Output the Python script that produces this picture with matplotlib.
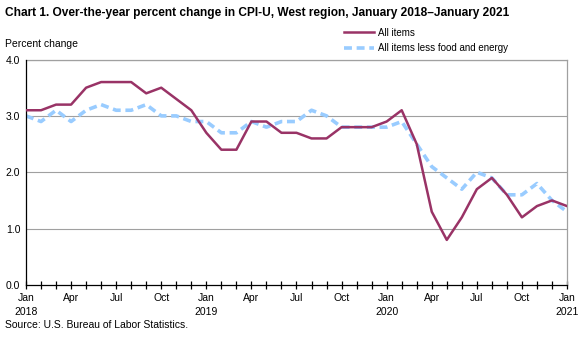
import matplotlib
matplotlib.use("Agg")
import matplotlib.pyplot as plt
import numpy as np

plt.rcParams["font.family"] = ["Liberation Sans", "DejaVu Sans"]

# Monthly data, January 2018 through January 2021
months = ["Jan", "Feb", "Mar", "Apr", "May", "Jun",
          "Jul", "Aug", "Sep", "Oct", "Nov", "Dec"]
years = [2018, 2019, 2020, 2021]

all_items = [3.1, 3.1, 3.2, 3.2, 3.5, 3.6, 3.6, 3.6, 3.4, 3.5, 3.3, 3.1,
             2.7, 2.4, 2.4, 2.9, 2.9, 2.7, 2.7, 2.6, 2.6, 2.8, 2.8, 2.8,
             2.9, 3.1, 2.5, 1.3, 0.8, 1.2, 1.7, 1.9, 1.6, 1.2, 1.4, 1.5,
             1.4]
core = [3.0, 2.9, 3.1, 2.9, 3.1, 3.2, 3.1, 3.1, 3.2, 3.0, 3.0, 2.9,
        2.9, 2.7, 2.7, 2.9, 2.8, 2.9, 2.9, 3.1, 3.0, 2.8, 2.8, 2.8,
        2.8, 2.9, 2.5, 2.1, 1.9, 1.7, 2.0, 1.9, 1.6, 1.6, 1.8, 1.5,
        1.3]

y_ticks = [0.0, 1.0, 2.0, 3.0, 4.0]

MAROON = "#993366"
LIGHTBLUE = "#99CCFF"
GRID = "#a0a0a0"

x = np.arange(len(all_items))

fig = plt.figure(figsize=(5.88, 3.37), dpi=100)
ax = fig.add_axes([0.0442, 0.1543, 0.9201, 0.6691])

for yv in y_ticks[1:]:
    ax.axhline(yv, color=GRID, lw=0.8, zorder=1)

ax.plot(x, core, color=LIGHTBLUE, lw=2.6, ls=(0, (2.2, 1.3)), zorder=2,
        label="All items less food and energy")
ax.plot(x, all_items, color=MAROON, lw=1.8, zorder=3, label="All items")

ax.set_xlim(0, len(all_items) - 1)
ax.set_ylim(0, 4.0)
ax.set_yticks(y_ticks)
ax.set_yticklabels([f"{v:.1f}" for v in y_ticks], fontsize=7.5)
ax.tick_params(axis="y", length=0, pad=4)

labels = []
for i in range(len(all_items)):
    m = months[i % 12]
    if i % 3 != 0:
        labels.append("")
    elif m == "Jan":
        labels.append(f"Jan\n{years[i // 12]}")
    else:
        labels.append(m)
ax.set_xticks(x)
ax.set_xticklabels(labels, fontsize=7.5, linespacing=1.45)
ax.tick_params(axis="x", direction="inout", length=6, width=0.9, pad=3,
               color="black")

for side in ("top", "right"):
    ax.spines[side].set_color(GRID)
    ax.spines[side].set_linewidth(0.9)
for side in ("left", "bottom"):
    ax.spines[side].set_color("black")
    ax.spines[side].set_linewidth(0.9)
ax.spines["top"].set_zorder(1)

fig.text(0.009, 0.962, "Chart 1. Over-the-year percent change in CPI-U, West region, January 2018\u2013January 2021",
         fontsize=8.6, fontweight="bold", va="center", ha="left")
fig.text(0.008, 0.868, "Percent change", fontsize=7.5, va="center", ha="left")
fig.text(0.008, 0.035, "Source: U.S. Bureau of Labor Statistics.", fontsize=7.5,
         va="center", ha="left")

handles, leg_labels = ax.get_legend_handles_labels()
leg = fig.legend(handles[::-1], leg_labels[::-1], loc="upper left",
                 bbox_to_anchor=(0.585, 0.918), frameon=False, fontsize=7,
                 handlelength=3.1, handletextpad=0.35, labelspacing=0.55,
                 borderpad=0, borderaxespad=0)

fig.savefig("out.png", dpi=100)
